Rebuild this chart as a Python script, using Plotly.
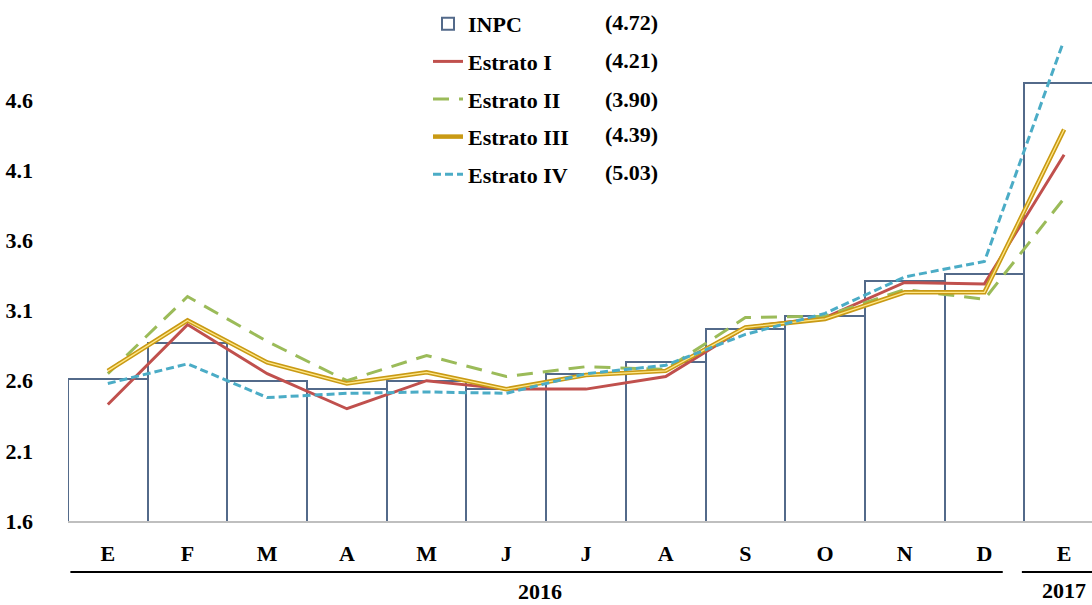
import plotly.graph_objects as go

months = ["E", "F", "M", "A", "M", "J", "J", "A", "S", "O", "N", "D", "E"]
inpc = [2.61, 2.87, 2.60, 2.54, 2.60, 2.54, 2.65, 2.73, 2.97, 3.06, 3.31, 3.36, 4.72]
estrato1 = [2.43, 3.00, 2.65, 2.40, 2.60, 2.54, 2.54, 2.63, 2.98, 3.05, 3.30, 3.29, 4.21]
estrato2 = [2.65, 3.20, 2.88, 2.60, 2.78, 2.63, 2.70, 2.68, 3.05, 3.06, 3.25, 3.18, 3.90]
estrato3 = [2.67, 3.03, 2.73, 2.58, 2.66, 2.54, 2.64, 2.67, 2.98, 3.04, 3.23, 3.23, 4.39]
estrato4 = [2.58, 2.72, 2.48, 2.51, 2.52, 2.51, 2.65, 2.71, 2.93, 3.08, 3.34, 3.45, 5.03]
legend_values = ["(4.72)", "(4.21)", "(3.90)", "(4.39)", "(5.03)"]
y_ticks = [1.6, 2.1, 2.6, 3.1, 3.6, 4.1, 4.6]
years = ["2016", "2017"]

x = list(range(len(months)))
FONT = "Liberation Serif, Times New Roman, serif"
FS = 22

fig = go.Figure()
fig.add_trace(go.Bar(x=x, y=inpc, base=0, name="INPC", width=1,
                     marker=dict(color="white", line=dict(color="#536A8A", width=2)),
                     legendgroup="g0"))
fig.add_trace(go.Scatter(x=x, y=estrato1, mode="lines", name="Estrato I",
                         line=dict(color="#C0504D", width=3), legendgroup="g1"))
fig.add_trace(go.Scatter(x=x, y=estrato2, mode="lines", name="Estrato II",
                         line=dict(color="#9BBB59", width=3, dash="16px,10px"), legendgroup="g2"))
fig.add_trace(go.Scatter(x=x, y=estrato3, mode="lines", name="Estrato III",
                         line=dict(color="#C99A14", width=4.5), legendgroup="g3"))
fig.add_trace(go.Scatter(x=x, y=estrato3, mode="lines", name="Estrato III",
                         line=dict(color="#FFE88A", width=1.3), legendgroup="g3",
                         showlegend=False, hoverinfo="skip"))
fig.add_trace(go.Scatter(x=x, y=estrato4, mode="lines", name="Estrato IV",
                         line=dict(color="#4BACC6", width=3, dash="8px,4px"), legendgroup="g4"))

W, H = 1092, 605
L, R, T, B = 68, 0, 44, 84
pw = W - L - R
ph = H - T - B

def py(ypix):
    return (H - B - ypix) / ph

annotations = []
for val, ypix in zip(legend_values, [22, 61, 99, 134, 172]):
    annotations.append(dict(xref="paper", yref="paper", x=(603 - L) / pw, y=py(ypix),
                            text=val, showarrow=False, xanchor="left", yanchor="middle",
                            font=dict(family=FONT, size=FS, color="black", weight="bold")))
annotations.append(dict(xref="x", yref="paper", x=5.42, y=py(591), text=years[0], showarrow=False,
                        yanchor="middle",
                        font=dict(family=FONT, size=FS, color="black", weight="bold")))
annotations.append(dict(xref="x", yref="paper", x=12.0, y=py(590), text=years[1], showarrow=False,
                        yanchor="middle",
                        font=dict(family=FONT, size=FS, color="black", weight="bold")))

shapes = [
    dict(type="line", xref="x", yref="paper", x0=-0.47, x1=11.23, y0=py(572), y1=py(572),
         line=dict(color="black", width=2)),
    dict(type="line", xref="x", yref="paper", x0=11.47, x1=12.4, y0=py(572), y1=py(572),
         line=dict(color="black", width=2)),
]

fig.update_layout(
    width=W, height=H,
    margin=dict(l=L, r=R, t=T, b=B),
    paper_bgcolor="white", plot_bgcolor="white",
    bargap=0,
    font=dict(family=FONT, size=FS, color="black", weight="bold"),
    showlegend=True,
    legend=dict(x=(428 - L) / pw, y=py(3), xanchor="left", yanchor="top",
                bgcolor="rgba(0,0,0,0)", tracegroupgap=6,
                font=dict(family=FONT, size=FS, color="black", weight="bold")),
    xaxis=dict(range=[-0.5, 12.35], tickvals=x, ticktext=months, showgrid=False,
               ticks="", ticklabelstandoff=12, showline=True, linecolor="#BFBFBF", linewidth=2,
               zeroline=False, fixedrange=True),
    yaxis=dict(range=[1.6, 5.0], tickvals=y_ticks, ticktext=[f"{v:.1f}" for v in y_ticks],
               showgrid=False, zeroline=False, showline=False, ticks="",
               ticklabelstandoff=34),
    annotations=annotations,
    shapes=shapes,
)

fig.write_html("out.html", config={"displayModeBar": False},
               post_script="document.body.style.margin='0px';document.body.style.overflow='hidden';")
